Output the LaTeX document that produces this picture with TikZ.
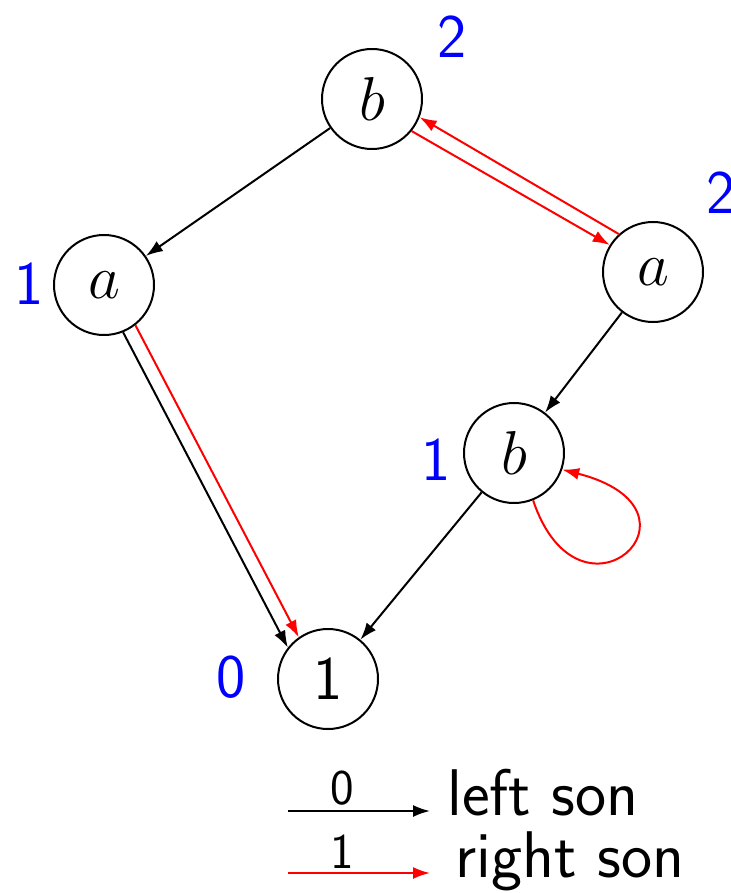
\RequirePackage{fix-cm}
\documentclass[tikz,border=0pt]{standalone}
\usepackage{fontspec}
\usetikzlibrary{arrows.meta}
\tikzset{
  st/.style={circle,draw,line width=1pt,minimum size=50pt,inner sep=0pt,font=\fontsize{31}{31}\selectfont},
  lbl/.style={text=blue,font=\fontsize{31}{31}\selectfont\sffamily,inner sep=0pt},
  zero/.style={line width=1pt,-{Latex[length=8.5pt,width=6pt]}},
  one/.style={line width=1pt,red,-{Latex[length=8.5pt,width=6pt]}},
  legtxt/.style={font=\fontsize{33}{33}\selectfont\sffamily,inner sep=0pt,anchor=base west},
  legnum/.style={font=\fontsize{25}{25}\selectfont\sffamily,inner sep=0pt}
}
\begin{document}
\begin{tikzpicture}[x=0.5pt,y=-0.5pt]
\useasboundingbox (0,0) rectangle (731,893);
\node[st] (bt) at (372,99) {$b$};
\node[st] (al) at (104,285) {$a$};
\node[st] (ar) at (653,272) {$a$};
\node[st] (bm) at (514,453) {$b$};
\node[st,font=\fontsize{31}{31}\selectfont\sffamily] (one) at (328,679) {1};
\node[lbl] (l1) at (452,37) {2};
\node[lbl] (l2) at (721,193) {2};
\node[lbl] (l3) at (29,284) {1};
\node[lbl] (l4) at (436,460) {1};
\node[lbl] (l5) at (231,677) {0};
% edges
\draw[zero] (bt) -- (al);
\draw[one] (ar.132) -- (bt.-21);
\draw[one] (bt.-39) -- (ar.148);
\draw[zero] (al.-68) -- (one.142);
\draw[one] (al.-52) -- (one.125);
\draw[zero] (ar) -- (bm);
\draw[zero] (bm) -- (one);
\draw[one] (bm.-68) .. controls (580,640) and (720,510) .. (bm.-19);
% legend
\coordinate (k0a) at (288,811);
\coordinate (k0b) at (430,811);
\coordinate (k1a) at (288,873);
\coordinate (k1b) at (430,873);
\draw[zero] (k0a) -- (k0b);
\draw[one] (k1a) -- (k1b);
\node[legnum] (n0) at (342,788) {0};
\node[legnum] (n1) at (342,852) {1};
\node[legtxt] (t0) at (447,815) {left son};
\node[legtxt] (t1) at (455,877) {right son};
\end{tikzpicture}
\end{document}
